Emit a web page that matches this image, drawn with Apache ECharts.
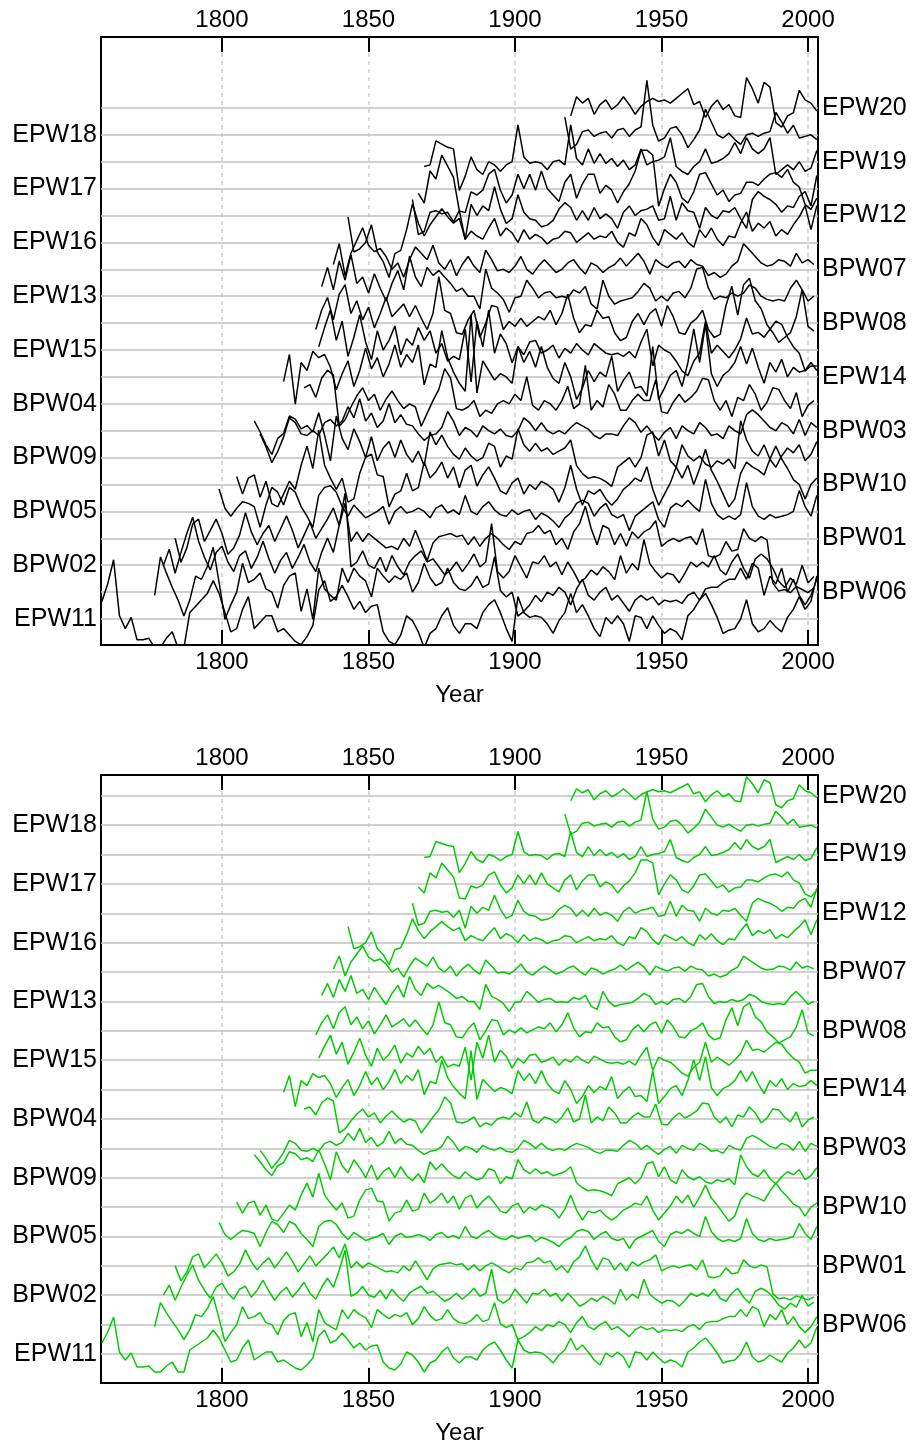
<!DOCTYPE html>
<html>
<head>
<meta charset="utf-8">
<script src="https://cdn.jsdelivr.net/npm/echarts@6/dist/echarts.min.js"></script>
<style>
  html, body { margin: 0; padding: 0; background: #fff; }
  #chart { width: 914px; height: 1448px; }
</style>
</head>
<body>
<div id="chart"></div>
<script>
// ring width indices, one value every 2 years from the start year
var step = 2;
var names = ['EPW11', 'BPW06', 'BPW02', 'BPW01', 'BPW05', 'BPW10', 'BPW09', 'BPW03', 'BPW04', 'EPW14',
             'EPW15', 'BPW08', 'EPW13', 'BPW07', 'EPW16', 'EPW12', 'EPW17', 'EPW19', 'EPW18', 'EPW20'];
var startYears = [1759, 1777, 1780, 1784, 1799, 1805, 1811, 1813, 1828, 1821,
                  1833, 1832, 1834, 1838, 1843, 1865, 1867, 1869, 1917, 1919];
var xTicks = [1800, 1850, 1900, 1950, 2000];

var epw11 = [1.1,2.2,3.7,0.2,-0.6,0.1,-1.3,-1.3,-1.2,-1.8,-1.8,-1.2,-0.8,-1.8,-1.8,0.4,0.8,1.2,1.6,2.4,
  1.6,0.4,-0.8,-0.6,0.6,1.4,-0.6,-0.2,0.2,0.2,-0.8,-0.6,-1.0,-1.4,-1.6,-1.1,-0.4,1.8,2.4,1.1,
  1.4,2.1,1.4,0.6,1.1,0.4,0.8,0.9,-0.8,-1.4,-1.6,-1.0,0.2,-0.1,-0.8,-1.8,-0.9,-0.6,0.2,0.7,
  -0.4,-0.9,-0.3,-0.3,-0.6,0.4,0.9,1.2,0.4,-0.6,-1.4,1.4,0.4,0.1,0.2,0.1,-0.3,-0.9,-0.1,0.4,
  1.6,0.4,0.9,0.2,-0.6,-1.1,0.1,-0.3,0.2,-0.3,-1.4,0.2,0.1,-0.6,0.2,-0.4,-0.9,-0.6,-0.8,-1.3,
  0.2,0.6,1.2,1.6,0.9,0.1,-0.9,-0.7,-0.6,0.0,1.2,-0.3,-0.8,-0.6,-0.1,-0.5,-0.8,0.1,0.6,1.4,
  0.6,1.1,2.7];
var bpw06 = [-0.2,2.2,1.2,0.3,-0.5,-1.5,-0.5,1.0,0.8,1.6,2.8,0.6,-1.7,-0.8,0.0,1.8,0.6,0.8,1.2,0.2,
  0.0,-1.0,0.4,1.0,1.2,-1.2,0.2,-1.7,1.5,0.2,-0.2,-0.5,1.5,0.6,1.5,1.0,0.7,-0.3,1.5,1.0,
  0.6,1.0,0.8,1.2,0.0,0.6,1.8,0.9,0.4,0.6,1.5,0.6,0.2,0.1,0.4,1.0,0.3,0.5,2.2,0.1,
  -0.3,0.0,-1.5,-1.2,-0.8,-0.2,-0.6,0.0,-0.2,0.3,0.0,-0.8,0.2,0.8,-0.2,-0.5,0.0,0.3,-0.5,-0.2,
  -0.7,-1.2,-0.5,-0.2,-0.5,-0.3,-0.8,-0.5,-0.6,-0.5,-0.7,-0.2,0.0,-0.5,0.2,0.3,0.3,0.6,0.8,0.8,
  1.5,0.8,1.8,1.5,-0.2,1.0,0.5,1.5,0.0,0.8,-0.2,-0.8,-0.2,0.8];
var bpw02 = [0.0,1.0,-0.5,0.8,2.0,3.0,1.5,0.5,-0.3,0.8,1.2,0.2,-0.4,0.6,0.9,-0.2,0.5,1.5,0.4,-0.5,
  0.3,0.8,-0.2,0.5,1.3,0.2,-0.4,0.8,1.7,0.8,2.5,4.5,-0.1,0.2,0.9,0.0,-0.2,0.5,-0.4,0.6,
  -0.1,-0.6,0.2,0.6,0.9,0.2,0.4,-0.1,-0.6,-0.3,0.2,-0.4,0.1,0.7,-0.1,0.2,2.6,-0.4,-0.8,-0.4,
  0.6,-0.1,-0.8,0.2,0.1,0.6,-0.1,0.2,-0.6,0.2,-0.4,-1.1,-0.8,-0.3,-0.6,-0.1,-0.4,-0.9,0.6,-0.5,
  0.1,-0.3,1.6,0.1,-0.4,-0.8,-0.5,-0.6,-1.1,-0.5,0.2,-0.1,0.2,-0.1,0.6,-0.3,-0.6,0.2,0.7,-0.2,
  -0.8,0.4,0.7,0.4,-0.2,-1.0,-1.4,-0.8,-1.2,0.0,-1.1,-0.7];
var bpw01 = [0.0,-1.5,-0.6,0.9,1.2,-0.2,0.5,1.2,0.3,-1.0,-0.6,0.2,1.6,0.4,-0.4,0.3,0.8,-0.2,0.6,1.4,
  0.5,-0.6,0.2,1.0,0.0,0.6,1.2,1.9,0.8,2.2,-0.2,0.4,-0.2,0.3,0.0,-0.3,-0.6,-0.5,-0.7,0.0,
  -0.5,0.5,-0.4,-1.4,-0.3,0.1,0.2,0.3,0.1,0.2,-0.4,0.1,-0.5,0.0,0.3,0.0,-0.4,-0.7,-0.2,-0.4,
  0.3,0.4,0.8,0.3,0.5,-0.4,0.0,-0.7,0.4,0.9,2.0,0.6,-0.4,0.8,0.6,-0.4,0.3,-0.5,0.4,0.0,
  0.4,0.6,1.1,-0.5,-0.2,0.0,-0.2,0.0,0.1,-0.4,0.6,-1.1,-1.2,-1.0,-0.2,-0.8,-0.7,0.6,0.0,-0.2,
  0.1,-0.1,-2.8,-3.3,-3.2,-3.4,-3.0,-3.2,-3.4,-3.1];
var bpw05 = [1.4,0.2,-0.3,0.2,0.6,0.5,0.3,-1.0,0.4,1.5,1.2,0.4,1.5,1.2,0.3,-0.3,-1.0,1.0,1.5,1.6,
  1.2,0.3,-0.3,0.4,0.0,-0.4,-0.2,0.0,0.3,-0.8,0.0,0.3,-0.1,0.0,0.2,0.0,-0.4,0.2,0.4,-0.1,
  0.1,-0.2,1.0,0.0,-0.2,0.3,0.6,0.1,-0.2,-0.3,0.1,-0.2,0.0,0.1,-0.5,-0.1,-0.3,-0.6,-1.0,-0.4,
  -0.1,0.5,0.7,0.5,-0.3,0.2,0.5,-0.2,-0.4,-0.2,-1.2,-0.3,0.0,0.3,0.6,-0.5,-1.0,0.2,0.5,0.3,
  0.7,0.3,0.0,2.0,0.5,-0.2,-0.5,-0.3,-0.5,-0.2,1.8,0.3,-0.3,-0.5,-0.2,-0.4,-0.3,-0.2,0.0,1.3,
  0.3,-0.3,1.0];
var bpw10 = [0.5,-0.6,0.4,0.6,-0.8,0.2,-1.2,-1.4,-0.6,0.2,-0.3,1.2,2.4,1.0,3.4,1.2,0.4,-0.3,0.4,-1.1,
  -0.9,0.7,1.7,1.9,0.6,0.5,-1.4,-0.6,-0.4,0.7,-0.4,-0.2,1.4,0.4,0.8,1.4,0.4,1.1,-0.2,0.9,
  1.2,-0.1,0.6,1.1,0.4,-0.4,-0.6,0.1,0.4,-0.6,0.0,-0.3,0.2,0.0,-0.3,-1.1,-0.2,1.2,-0.3,-1.3,
  -0.4,-0.6,-0.3,-0.9,-1.3,-0.9,-0.3,0.0,0.4,0.2,1.1,-0.3,-1.3,-0.6,0.1,1.1,0.4,1.2,0.0,1.0,
  2.2,0.9,0.2,-0.6,-1.4,-0.9,0.7,1.4,1.1,0.9,0.6,1.6,2.4,1.6,1.0,0.3,0.0,-0.9,0.0,0.4];
var bpw09 = [2.3,1.6,0.8,0.2,1.2,1.5,2.6,2.4,1.8,2.0,1.6,2.8,1.4,-0.2,2.6,1.2,0.5,1.8,1.0,0.0,
  1.3,-0.2,0.6,1.0,0.0,1.1,0.2,-0.3,0.4,-0.5,1.6,0.8,1.4,0.7,0.2,-0.1,0.6,0.1,-0.2,0.0,
  0.9,0.7,-0.6,0.1,-0.1,1.8,0.8,0.4,0.9,0.4,0.6,0.2,0.4,0.6,1.1,-0.5,-1.0,-1.3,-1.2,-1.3,
  -1.5,-1.8,-0.6,-0.3,0.0,-0.6,0.0,1.4,1.6,0.1,1.1,-0.2,-0.6,0.8,0.1,-0.2,0.1,-0.4,-0.6,-0.2,
  -0.4,-0.1,-0.7,2.3,1.1,0.4,0.1,0.8,-0.1,-0.6,0.1,0.6,0.3,0.8,-0.2,0.2,1.0];
var bpw03 = [-0.2,-1.0,-2.0,-1.3,-0.4,0.8,0.5,-0.2,-0.3,0.0,-0.3,0.5,0.7,0.3,0.6,1.5,0.8,2.0,0.6,1.1,
  0.2,0.6,1.7,0.5,1.0,0.4,0.3,-0.2,-0.6,-0.3,-0.2,0.2,1.2,0.6,-0.3,0.2,0.0,-0.4,0.3,0.0,
  -0.2,0.1,-0.3,-0.4,0.0,0.8,0.5,0.0,0.5,0.0,-0.2,0.0,-0.2,0.2,0.5,0.3,0.1,-0.3,-0.5,-0.2,
  -0.2,-0.3,0.3,0.8,0.5,-0.1,0.3,-0.2,-0.6,-0.1,0.2,-0.5,0.3,0.0,-0.2,0.5,0.2,-0.3,-0.2,-0.5,
  0.3,0.0,-0.2,1.0,1.3,1.0,0.6,0.2,0.0,0.5,0.3,-0.2,0.7,-0.3,0.5,0.2];
var bpw04 = [1.0,1.2,0.4,1.6,2.1,1.8,-1.4,-1.0,-0.2,0.5,1.0,0.2,0.6,-0.4,0.3,0.8,0.2,-0.3,0.0,-0.2,
  -1.4,-0.6,0.2,0.9,2.2,1.6,-0.3,-0.4,-0.2,0.2,-0.8,-0.4,-0.6,0.0,0.2,0.0,0.6,0.2,1.7,-0.1,
  -0.4,0.2,0.0,-0.4,0.2,1.1,-0.3,0.0,2.4,-0.4,0.2,-0.2,1.2,0.6,-0.4,-0.4,0.2,0.6,0.2,0.2,
  1.5,-0.5,-0.6,0.1,0.6,0.1,0.4,0.8,1.6,1.5,0.2,-0.4,0.2,-0.8,0.4,0.2,1.2,0.6,-0.4,0.1,
  1.0,0.9,0.2,-0.3,0.7,-0.8,-0.1,0.2];
var epw14 = [-0.3,1.4,-1.7,0.9,0.4,1.6,1.2,1.4,0.6,-0.8,0.2,1.0,-0.6,0.4,1.8,0.5,1.2,0.0,0.8,2.0,
  0.6,1.4,0.9,2.0,-0.5,0.8,0.6,2.9,1.2,0.3,-0.4,-0.9,3.9,-1.0,1.0,0.4,-0.2,0.2,0.0,-0.4,
  1.9,0.9,1.6,0.6,1.9,0.6,-0.1,-0.4,0.9,0.0,-1.4,-0.7,0.4,-0.3,0.3,0.0,1.3,-0.9,-0.2,0.3,
  -0.7,-0.6,-1.2,1.9,-1.4,-0.7,0.1,0.4,-0.6,0.9,3.0,0.9,3.3,0.2,-0.6,0.1,0.4,0.9,1.9,0.8,
  1.8,0.6,-0.4,0.9,0.3,1.1,0.0,0.6,0.3,0.4,0.9,0.4];
var epw15 = [0.2,1.4,2.5,0.6,1.8,-0.4,0.8,2.2,0.5,-0.6,1.2,0.0,0.6,1.5,-0.3,0.7,0.3,1.4,0.6,1.2,
  -0.2,0.4,-0.7,-0.4,-0.6,1.3,-2.0,1.8,0.2,2.5,-0.2,1.0,0.4,-0.8,0.2,-0.3,0.5,0.6,-0.2,0.0,
  0.3,-0.5,0.1,-0.2,0.4,0.0,-0.3,0.4,0.1,-0.2,-0.3,-0.2,-0.4,-0.1,-0.5,0.5,1.3,-1.0,0.3,0.0,
  -0.2,-0.7,-1.3,-1.6,-0.7,-0.2,1.8,-0.2,0.3,-0.1,-0.5,0.0,0.7,2.0,1.0,1.1,0.8,1.3,1.8,1.6,
  0.8,0.2,-0.2,-1.3,-1.0,-1.0];
var bpw08 = [-0.4,0.8,1.6,0.2,1.8,2.4,0.6,1.4,0.2,1.0,-0.3,0.6,1.6,0.4,0.8,1.2,0.4,1.1,0.3,-0.4,
  0.6,2.9,0.8,0.6,-0.6,-0.7,0.2,0.8,-0.9,0.0,1.1,1.0,-0.4,0.1,-0.2,0.3,-0.2,0.1,0.4,0.2,
  0.8,-0.1,0.6,1.8,0.3,-0.6,-0.1,-0.2,0.8,0.3,0.4,-0.6,-1.1,-0.9,0.1,0.6,-0.1,0.6,0.9,-0.2,
  1.1,0.4,-0.6,-0.7,0.0,0.3,0.8,-0.4,-0.9,-0.7,1.1,2.3,0.5,2.4,2.8,1.4,0.9,-0.1,-0.6,-1.2,
  -0.9,-0.6,0.4,2.1,-0.2,-0.5];
var epw13 = [0.6,1.8,0.4,2.2,1.0,2.6,0.8,1.2,0.2,1.4,0.5,-0.3,0.8,1.6,0.4,2.5,1.2,0.6,1.8,1.3,
  1.6,1.2,0.8,0.3,0.5,0.0,0.0,-0.8,1.7,0.5,0.2,-0.2,-1.0,-0.1,0.0,1.0,0.5,-0.1,0.2,0.3,
  -0.1,0.0,-0.1,0.4,0.2,0.6,-0.5,-0.8,1.0,0.0,-0.5,-0.3,-0.2,-0.1,0.3,0.8,0.5,-0.3,0.0,-0.3,
  0.2,0.3,-0.1,0.5,1.7,1.8,0.5,-0.2,0.0,-0.1,0.2,0.0,0.2,0.7,0.5,0.0,-0.2,-0.3,-0.2,-0.3,
  0.5,1.0,0.4,-0.3,0.0];
var bpw07 = [0.3,1.6,-0.4,1.0,1.8,2.6,1.5,1.1,1.3,0.8,0.0,0.4,-0.5,0.6,1.4,1.0,0.6,1.5,0.4,0.0,
  0.6,-0.4,0.3,0.8,0.2,-0.2,1.2,0.6,-0.1,0.0,-0.2,0.2,0.8,0.0,-0.3,0.2,0.6,0.2,-0.2,0.0,
  0.4,0.6,0.1,-0.3,0.4,0.2,-0.2,0.1,0.3,0.7,0.2,0.6,1.0,0.5,-0.3,0.6,0.3,0.1,0.4,0.5,
  0.1,0.6,0.3,0.2,-0.4,-0.2,-0.5,-0.3,0.2,0.5,1.6,1.2,0.8,0.4,0.2,0.3,0.6,0.5,0.2,1.0,
  0.4,0.6,0.3];
var epw16 = [1.6,-0.6,-0.4,0.0,1.1,-0.6,-1.2,-2.2,-0.7,-0.5,0.8,2.4,1.2,0.4,1.1,1.6,2.1,1.6,1.2,1.5,
  0.2,0.7,0.4,0.2,0.9,1.5,0.4,0.9,0.6,0.0,0.8,0.2,0.5,0.3,-0.1,0.2,0.3,0.7,0.6,0.0,
  0.3,0.6,0.2,0.4,0.3,0.7,0.0,-0.3,0.6,0.4,1.5,1.1,0.3,-0.2,0.8,0.5,0.2,0.6,0.0,-0.3,
  0.8,0.3,0.9,0.2,-0.2,0.4,0.3,1.2,1.9,0.7,1.2,0.9,1.3,0.4,0.8,0.5,1.1,1.6,2.3,0.8,
  2.3];
var epw12 = [1.0,-1.2,-1.0,0.2,0.3,0.1,0.2,-0.4,0.3,-1.5,0.7,0.0,0.6,0.3,1.8,0.4,-0.5,-0.2,1.3,0.2,
  -0.2,-0.3,-0.7,-0.6,-0.3,0.4,0.8,0.5,-0.3,0.3,-0.3,0.5,-0.2,0.1,-0.2,-0.8,0.2,0.6,0.0,0.3,
  0.4,0.6,-0.3,-0.2,1.2,-0.3,0.8,0.3,0.2,-0.8,0.5,0.0,-0.2,0.3,0.2,0.5,-0.2,-0.8,1.0,1.5,
  1.2,1.0,0.7,0.2,0.6,0.5,1.2,1.5,0.6,2.5];
var epw17 = [-0.3,-0.9,1.1,0.6,2.1,1.4,0.7,-1.4,-1.5,-0.2,-0.4,-0.1,0.9,1.2,-0.1,-0.9,-0.4,0.9,0.0,0.9,
  -0.1,1.1,0.0,-0.4,-0.8,0.4,0.9,-0.6,0.3,0.9,0.9,-0.3,0.2,-0.1,-0.9,-0.2,0.3,1.1,2.4,2.4,
  2.1,-1.1,0.0,0.9,0.4,-0.6,-0.9,-0.2,0.9,1.0,0.3,-0.4,-0.1,-0.8,-0.4,-0.3,0.4,0.4,0.2,0.6,
  0.9,1.0,0.7,1.2,0.4,0.1,-1.0,-1.3,-0.6];
var epw19 = [-0.3,-0.2,1.3,1.1,0.9,0.8,-1.8,-0.9,0.3,-0.5,-0.8,0.0,-0.2,-0.6,-0.2,0.0,2.3,0.3,-0.1,0.0,
  -0.1,-0.5,0.0,0.1,-0.2,2.3,0.2,-0.2,0.8,-0.1,0.5,-0.1,0.2,-0.3,0.1,-0.5,-0.2,0.8,-0.2,0.0,
  0.1,0.3,1.5,-0.3,-0.6,-0.8,-0.3,0.0,0.8,-0.1,0.0,0.2,0.5,1.2,0.5,1.5,0.8,0.5,0.8,1.5,
  -0.8,-0.5,-0.2,-0.5,0.0,-0.6,-0.4,0.7];
var epw18 = [1.1,-0.9,-0.6,0.2,0.3,-0.1,0.1,0.2,-0.2,0.3,0.4,-0.1,0.3,0.5,3.4,0.6,-0.4,-0.2,0.4,0.5,
  0.0,-0.8,-0.3,0.3,1.6,0.8,0.0,-0.2,0.1,-0.3,-0.6,0.0,0.1,-0.1,0.1,0.2,1.4,0.8,0.1,0.6,
  -0.2,-0.1,0.0,-0.3];
var epw20 = [-0.5,0.7,0.3,0.6,-0.4,0.2,0.5,-0.1,0.2,0.7,0.2,-0.4,0.1,0.4,0.6,0.4,0.5,0.3,0.6,0.9,
  1.2,0.2,0.4,-0.6,0.1,0.5,-0.1,0.2,-0.5,-0.6,1.9,1.2,0.3,1.6,1.3,-0.9,-1.2,-0.5,-0.3,1.1,
  0.5,0.3,-0.2];

var values = [epw11, bpw06, bpw02, bpw01, bpw05, bpw10, bpw09, bpw03, bpw04, epw14,
              epw15, bpw08, epw13, bpw07, epw16, epw12, epw17, epw19, epw18, epw20];

var chart = echarts.init(document.getElementById('chart'));

var font = 'Liberation Sans, Arial, sans-serif';
var gridH = 608;
var panels = [
  { top: 37,  base: 619,  gap: 26.9,  scale: 16, color: '#000000' },
  { top: 775, base: 1354, gap: 29.38, scale: 10, color: '#00cc00' }
];

function xAxisFor(p, pos) {
  return {
    gridIndex: p,
    type: 'value',
    position: pos,
    min: 1758.7,
    max: 2003.4,
    axisLine: { show: false, onZero: false },
    axisTick: { show: true, inside: true, length: 15, customValues: xTicks, lineStyle: { color: '#000', width: 2 } },
    axisLabel: {
      show: true, margin: 5, fontSize: 24, color: '#000', fontFamily: font,
      customValues: xTicks,
      formatter: function (v) { return String(v); }
    },
    splitLine: { show: pos === 'bottom', lineStyle: { color: '#cccccc', width: 1.5, type: [4, 4] } },
    name: pos === 'bottom' ? 'Year' : '',
    nameLocation: 'middle',
    nameGap: 38,
    nameTextStyle: { fontSize: 24, color: '#000', fontFamily: font }
  };
}

var grids = [], xAxes = [], yAxes = [], series = [];
panels.forEach(function (pn, p) {
  grids.push({ left: 101, width: 717, top: pn.top, height: gridH, show: true,
               borderColor: '#000', borderWidth: 2, backgroundColor: 'transparent' });
  xAxes.push(xAxisFor(p, 'bottom'));
  xAxes.push(xAxisFor(p, 'top'));
  names.forEach(function (nm, k) {
    var below = (pn.top + gridH) - (pn.base - k * pn.gap);
    var mn = -below / pn.scale;
    yAxes.push({ gridIndex: p, type: 'value', show: false, min: mn, max: mn + gridH / pn.scale });
    var vals = values[k];
    var pts = vals.map(function (v, i) { return [startYears[k] + i * step, v]; });
    series.push({
      name: nm,
      type: 'line',
      xAxisIndex: p * 2,
      yAxisIndex: p * names.length + k,
      data: pts,
      symbol: 'none',
      z: 3,
      lineStyle: { color: pn.color, width: 1.5 },
      emphasis: { disabled: true },
      markLine: {
        silent: true,
        symbol: 'none',
        z: 1,
        lineStyle: { color: '#c0c0c0', width: 1.5, type: 'solid' },
        label: {
          show: true,
          position: k % 2 === 0 ? 'start' : 'end',
          distance: 4,
          padding: [6, 0, 0, 0],
          formatter: nm,
          fontSize: 25,
          color: '#000',
          fontFamily: font
        },
        data: [{ yAxis: 0 }]
      }
    });
  });
});

chart.setOption({
  animation: false,
  backgroundColor: '#fff',
  textStyle: { fontFamily: font },
  grid: grids,
  xAxis: xAxes,
  yAxis: yAxes,
  series: series
});
</script>
</body>
</html>
